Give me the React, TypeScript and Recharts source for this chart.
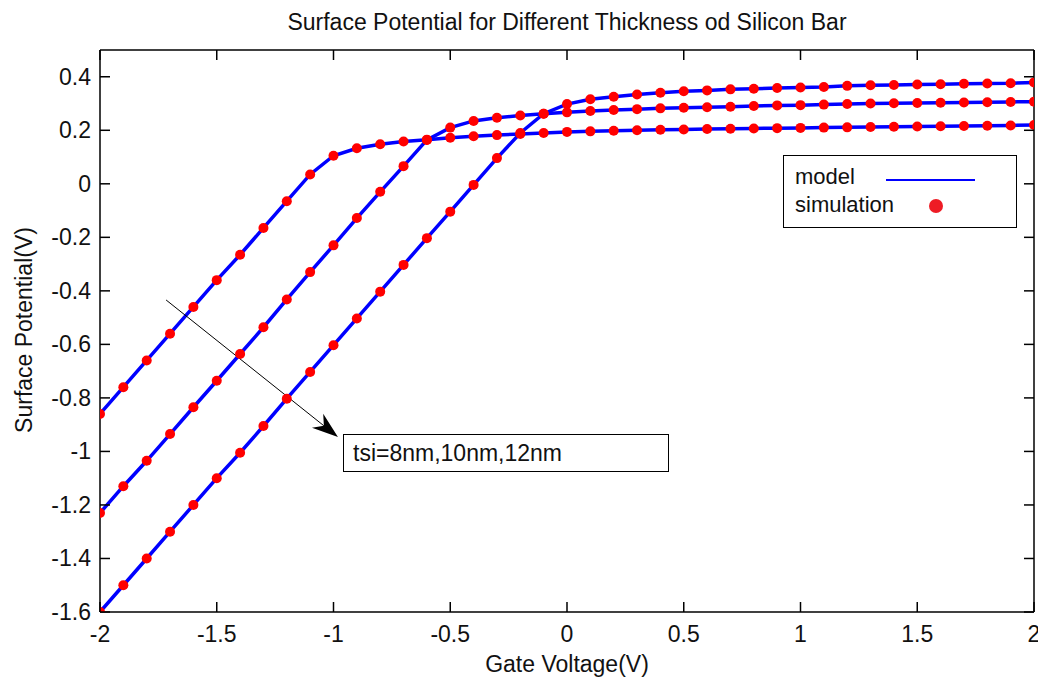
import React from "react";
import { ComposedChart, Line, XAxis, YAxis, ReferenceLine } from "recharts";

const gateVoltage = [
  -2, -1.9, -1.8, -1.7, -1.6, -1.5, -1.4, -1.3, -1.2, -1.1, -1, -0.9, -0.8, -0.7,
  -0.6, -0.5, -0.4, -0.3, -0.2, -0.1, 0, 0.1, 0.2, 0.3, 0.4, 0.5, 0.6, 0.7, 0.8,
  0.9, 1, 1.1, 1.2, 1.3, 1.4, 1.5, 1.6, 1.7, 1.8, 1.9, 2,
];
const tsi8 = [
  -0.86, -0.76, -0.66, -0.56, -0.46, -0.36, -0.265, -0.165, -0.065, 0.035, 0.105,
  0.133, 0.148, 0.158, 0.165, 0.172, 0.178, 0.182, 0.186, 0.19, 0.194, 0.196, 0.198,
  0.2, 0.202, 0.203, 0.205, 0.206, 0.207, 0.208, 0.209, 0.21, 0.211, 0.212, 0.213,
  0.214, 0.215, 0.216, 0.217, 0.218, 0.22,
];
const tsi10 = [
  -1.23, -1.13, -1.035, -0.935, -0.835, -0.736, -0.636, -0.536, -0.432, -0.33, -0.23,
  -0.128, -0.03, 0.066, 0.164, 0.21, 0.235, 0.247, 0.255, 0.262, 0.267, 0.272, 0.276,
  0.279, 0.282, 0.284, 0.286, 0.288, 0.291, 0.293, 0.294, 0.296, 0.298, 0.3, 0.301,
  0.302, 0.303, 0.304, 0.305, 0.306, 0.307,
];
const tsi12 = [
  -1.6, -1.5, -1.4, -1.3, -1.2, -1.1, -1.005, -0.905, -0.803, -0.703, -0.603, -0.503,
  -0.403, -0.303, -0.203, -0.104, -0.004, 0.096, 0.19, 0.262, 0.298, 0.316, 0.325,
  0.334, 0.34, 0.346, 0.349, 0.353, 0.355, 0.358, 0.36, 0.362, 0.366, 0.368, 0.369,
  0.371, 0.372, 0.374, 0.375, 0.376, 0.379,
];
const xTicks = [-2, -1.5, -1, -0.5, 0, 0.5, 1, 1.5, 2];
const yTicks = [-1.6, -1.4, -1.2, -1, -0.8, -0.6, -0.4, -0.2, 0, 0.2, 0.4];
const titleText = "Surface Potential for Different Thickness od Silicon Bar";
const xLabel = "Gate Voltage(V)";
const yLabel = "Surface Potential(V)";
const annotationText = "tsi=8nm,10nm,12nm";
const legendLabels = ["model", "simulation"];
const arrowStart = { x: -1.717, y: -0.434 };
const arrowEnd = { x: -0.981, y: -0.946 };

const data = gateVoltage.map((x, i) => ({ x, a: tsi8[i], b: tsi10[i], c: tsi12[i] }));

const FONT = "'Liberation Sans', Arial, sans-serif";
const TXT = "#111";

const LeftTick = (p: any) => (
  <g>
    <line x1={p.x} x2={p.x + 10} y1={p.y} y2={p.y} stroke="#000" strokeWidth={1.5} />
    <text x={p.x - 9} y={p.y} textAnchor="end" dominantBaseline="central" fontSize={23} fontFamily={FONT} fill={TXT}>
      {String(p.payload.value)}
    </text>
  </g>
);
const RightTick = (p: any) => (
  <line x1={p.x} x2={p.x - 10} y1={p.y} y2={p.y} stroke="#000" strokeWidth={1.5} />
);
const BottomTick = (p: any) => (
  <g>
    <line x1={p.x} x2={p.x} y1={p.y} y2={p.y - 10} stroke="#000" strokeWidth={1.5} />
    <text x={p.x} y={p.y + 22} textAnchor="middle" dominantBaseline="central" fontSize={23} fontFamily={FONT} fill={TXT}>
      {String(p.payload.value)}
    </text>
  </g>
);
const TopTick = (p: any) => (
  <line x1={p.x} x2={p.x} y1={p.y} y2={p.y + 10} stroke="#000" strokeWidth={1.5} />
);

const ArrowShape = (p: any) => {
  const { x1, y1, x2, y2 } = p;
  const dx = x2 - x1;
  const dy = y2 - y1;
  const len = Math.sqrt(dx * dx + dy * dy);
  const ux = dx / len;
  const uy = dy / len;
  const L = 26;
  const W = 9;
  const bx = x2 - ux * L;
  const by = y2 - uy * L;
  const nx = bx + ux * 8;
  const ny = by + uy * 8;
  const pts = `${x2},${y2} ${bx - uy * W},${by + ux * W} ${nx},${ny} ${bx + uy * W},${by - ux * W}`;
  return (
    <g>
      <line x1={x1} y1={y1} x2={nx} y2={ny} stroke="#000" strokeWidth={1} />
      <polygon points={pts} fill="#000" />
    </g>
  );
};

export default function App() {
  return (
    <div style={{ position: "relative", width: 1038, height: 673, fontFamily: FONT, color: TXT }}>
      <ComposedChart width={1038} height={665} data={data} margin={{ top: 0, right: 0, bottom: 0, left: 0 }}>
        <XAxis
          xAxisId={0}
          dataKey="x"
          type="number"
          domain={[-2, 2]}
          ticks={xTicks}
          height={61}
          tickSize={0}
          tickMargin={0}
          tickLine={false}
          tick={<BottomTick />}
          axisLine={{ stroke: "#000", strokeWidth: 1.5 }}
          allowDataOverflow
        />
        <XAxis
          xAxisId="t"
          orientation="top"
          dataKey="x"
          type="number"
          domain={[-2, 2]}
          ticks={xTicks}
          height={42}
          tickSize={0}
          tickMargin={0}
          tickLine={false}
          tick={<TopTick />}
          axisLine={{ stroke: "#000", strokeWidth: 1.5 }}
          allowDataOverflow
        />
        <YAxis
          yAxisId={0}
          type="number"
          domain={[-1.6, 0.5]}
          ticks={yTicks}
          width={92}
          tickSize={0}
          tickMargin={0}
          tickLine={false}
          tick={<LeftTick />}
          axisLine={{ stroke: "#000", strokeWidth: 1.5 }}
          allowDataOverflow
        />
        <YAxis
          yAxisId="r"
          orientation="right"
          type="number"
          domain={[-1.6, 0.5]}
          ticks={yTicks}
          width={12}
          tickSize={0}
          tickMargin={0}
          tickLine={false}
          tick={<RightTick />}
          axisLine={{ stroke: "#000", strokeWidth: 1.5 }}
          allowDataOverflow
        />
        {(["a", "b", "c"] as const).map((k) => (
          <Line
            key={"m" + k}
            xAxisId={0}
            yAxisId={0}
            dataKey={k}
            type="linear"
            stroke="#0000ff"
            strokeWidth={3.5}
            dot={false}
            activeDot={false}
            isAnimationActive={false}
          />
        ))}
        {(["a", "b", "c"] as const).map((k) => (
          <Line
            key={"s" + k}
            xAxisId={0}
            yAxisId={0}
            dataKey={k}
            type="linear"
            stroke="none"
            strokeWidth={0}
            dot={{ r: 5, fill: "#ff0000", stroke: "none" }}
            activeDot={false}
            isAnimationActive={false}
          />
        ))}
        <ReferenceLine
          xAxisId={0}
          yAxisId={0}
          segment={[arrowStart, arrowEnd]}
          shape={<ArrowShape />}
          ifOverflow="visible"
        />
      </ComposedChart>

      <div style={{ position: "absolute", left: 92, width: 934, top: 1, textAlign: "center", fontSize: 23, lineHeight: "26px", whiteSpace: "nowrap" }}>
        {titleText}
      </div>
      <div style={{ position: "absolute", left: 92, width: 934, top: 643, textAlign: "center", fontSize: 23, lineHeight: "26px", whiteSpace: "nowrap" }}>
        {xLabel}
      </div>
      <div
        style={{
          position: "absolute",
          left: 16,
          top: 322,
          fontSize: 23,
          lineHeight: "26px",
          whiteSpace: "nowrap",
          transform: "translate(-50%, -50%) rotate(-90deg)",
        }}
      >
        {yLabel}
      </div>

      <div
        style={{
          position: "absolute",
          left: 335,
          top: 426,
          width: 326,
          height: 38,
          boxSizing: "border-box",
          border: "1.5px solid #000",
          background: "#fff",
          fontSize: 23,
          lineHeight: "36px",
          paddingLeft: 9,
          whiteSpace: "nowrap",
        }}
      >
        {annotationText}
      </div>

      <div
        style={{
          position: "absolute",
          left: 775,
          top: 147,
          width: 234,
          height: 73,
          boxSizing: "border-box",
          border: "1.5px solid #000",
          background: "#fff",
          fontSize: 22,
        }}
      >
        <div style={{ position: "absolute", left: 11, top: 8, lineHeight: "26px" }}>{legendLabels[0]}</div>
        <div style={{ position: "absolute", left: 11, top: 36, lineHeight: "26px" }}>{legendLabels[1]}</div>
        <svg style={{ position: "absolute", left: 0, top: 0 }} width={234} height={73}>
          <line x1={102} x2={191} y1={24} y2={24} stroke="#0000ff" strokeWidth={2} />
          <circle cx={152} cy={50} r={7} fill="#ee1c25" />
        </svg>
      </div>
    </div>
  );
}
